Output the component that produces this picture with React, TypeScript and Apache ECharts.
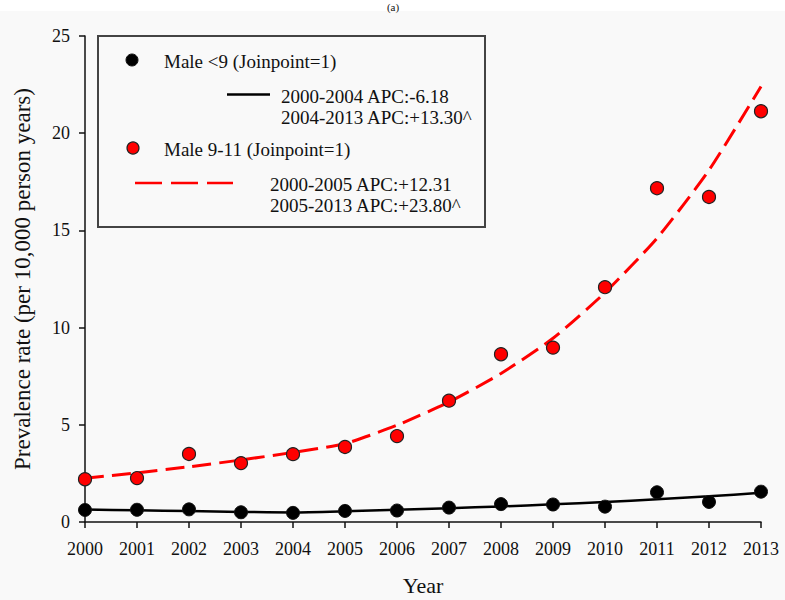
import React, { useEffect, useRef } from "react";
import * as echarts from "echarts";

const years = [2000, 2001, 2002, 2003, 2004, 2005, 2006, 2007, 2008, 2009, 2010, 2011, 2012, 2013];
const maleUnder9 = [0.62, 0.63, 0.65, 0.5, 0.47, 0.57, 0.59, 0.74, 0.92, 0.9, 0.79, 1.53, 1.03, 1.56];
const maleUnder9Fit = [0.64, 0.6, 0.56, 0.52, 0.49, 0.55, 0.63, 0.71, 0.8, 0.91, 1.03, 1.17, 1.32, 1.5];
const male9to11 = [2.2, 2.26, 3.5, 3.03, 3.49, 3.86, 4.42, 6.24, 8.63, 8.97, 12.08, 17.17, 16.72, 21.13];
const male9to11Fit = [2.25, 2.53, 2.84, 3.19, 3.58, 4.03, 4.98, 6.17, 7.64, 9.45, 11.8, 14.6, 18.1, 22.4];

const yTicks = { min: 0, max: 25, interval: 5 };
const legendLabels = {
  a: "Male <9 (Joinpoint=1)",
  a1: "2000-2004 APC:-6.18",
  a2: "2004-2013 APC:+13.30^",
  b: "Male 9-11 (Joinpoint=1)",
  b1: "2000-2005 APC:+12.31",
  b2: "2005-2013 APC:+23.80^",
};
const panelLabel = "(a)";
const yTitle = "Prevalence rate (per 10,000 person years)";
const xTitle = "Year";

const FONT = "'Liberation Serif', 'DejaVu Serif', serif";
const TXT = "#111";
const RED = "#ff0000";

const pairs = (vals: number[]) => years.map((y, i) => [y, vals[i]]);

export default function App() {
  const ref = useRef<HTMLDivElement>(null);
  useEffect(() => {
    if (!ref.current) return;
    const chart = echarts.init(ref.current, undefined, { renderer: "svg" });
    const txt = (x: number, y: number, text: string) => ({
      type: "text",
      x,
      y,
      style: { text, fontFamily: FONT, fontSize: 19, fill: TXT, verticalAlign: "middle", align: "left" },
      z: 100,
    });
    chart.setOption({
      animation: false,
      backgroundColor: "#f9f9f9",
      grid: { left: 85, right: 24, top: 36, bottom: 78, containLabel: false, outerBoundsMode: "none" },
      xAxis: {
        type: "value",
        min: 2000,
        max: 2013,
        interval: 1,
        axisLine: { show: true, lineStyle: { color: "#111", width: 1.5 } },
        axisTick: { show: true, length: 6, lineStyle: { color: "#111", width: 1.5 } },
        axisLabel: { formatter: (v: number) => String(v), fontFamily: FONT, fontSize: 18, color: TXT, margin: 18 },
        splitLine: { show: false },
        name: xTitle,
        nameLocation: "middle",
        nameGap: 52,
        nameTextStyle: { fontFamily: FONT, fontSize: 22, color: TXT },
      },
      yAxis: {
        type: "value",
        min: yTicks.min,
        max: yTicks.max,
        interval: yTicks.interval,
        axisLine: { show: true, lineStyle: { color: "#111", width: 1.5 } },
        axisTick: { show: true, length: 6, lineStyle: { color: "#111", width: 1.5 } },
        axisLabel: { fontFamily: FONT, fontSize: 18, color: TXT, margin: 15 },
        splitLine: { show: false },
        name: yTitle,
        nameLocation: "middle",
        nameGap: 51,
        nameTextStyle: { fontFamily: FONT, fontSize: 23, color: TXT },
      },
      series: [
        {
          type: "line",
          data: pairs(maleUnder9Fit),
          showSymbol: false,
          symbol: "none",
          smooth: 0.2,
          lineStyle: { color: "#000", width: 2.5 },
          z: 2,
        },
        {
          type: "line",
          data: pairs(male9to11Fit),
          showSymbol: false,
          symbol: "none",
          smooth: 0.2,
          lineStyle: { color: RED, width: 3, type: [19, 8] },
          z: 2,
        },
        {
          type: "scatter",
          data: pairs(maleUnder9),
          symbol: "circle",
          symbolSize: 13,
          itemStyle: { color: "#000", borderColor: "#111", borderWidth: 1, opacity: 1 },
          z: 3,
        },
        {
          type: "scatter",
          data: pairs(male9to11),
          symbol: "circle",
          symbolSize: 13,
          itemStyle: { color: "#ff0000", borderColor: "#222", borderWidth: 1.2, opacity: 1 },
          z: 3,
        },
      ],
      graphic: [
        { type: "rect", shape: { x: 0, y: 0, width: 785, height: 11 }, style: { fill: "#ffffff" }, z: 90 },
        {
          type: "text",
          x: 393,
          y: 1,
          style: { text: panelLabel, fontFamily: FONT, fontSize: 11, fill: TXT, align: "center", verticalAlign: "top" },
          z: 91,
        },
        {
          type: "rect",
          shape: { x: 98, y: 36, width: 387, height: 191 },
          style: { fill: "#f9f9f9", stroke: "#444", lineWidth: 2 },
          z: 95,
        },
        { type: "circle", shape: { cx: 132, cy: 60, r: 6 }, style: { fill: "#000", stroke: "#111", lineWidth: 1 }, z: 100 },
        txt(164, 61, legendLabels.a),
        { type: "line", shape: { x1: 227, y1: 94.5, x2: 270, y2: 94.5 }, style: { stroke: "#000", lineWidth: 2.5 }, z: 100 },
        txt(281, 96, legendLabels.a1),
        txt(281, 117, legendLabels.a2),
        { type: "circle", shape: { cx: 133, cy: 148, r: 6 }, style: { fill: "#ff0000", stroke: "#222", lineWidth: 1.2 }, z: 100 },
        txt(164, 149, legendLabels.b),
        {
          type: "line",
          shape: { x1: 135, y1: 183, x2: 233, y2: 183 },
          style: { stroke: RED, lineWidth: 2.5, lineDash: [27, 9] },
          z: 100,
        },
        txt(270, 184, legendLabels.b1),
        txt(270, 205, legendLabels.b2),
      ],
    });
    return () => chart.dispose();
  }, []);
  return <div ref={ref} style={{ position: "fixed", left: 0, top: 0, width: 785, height: 600 }} />;
}
